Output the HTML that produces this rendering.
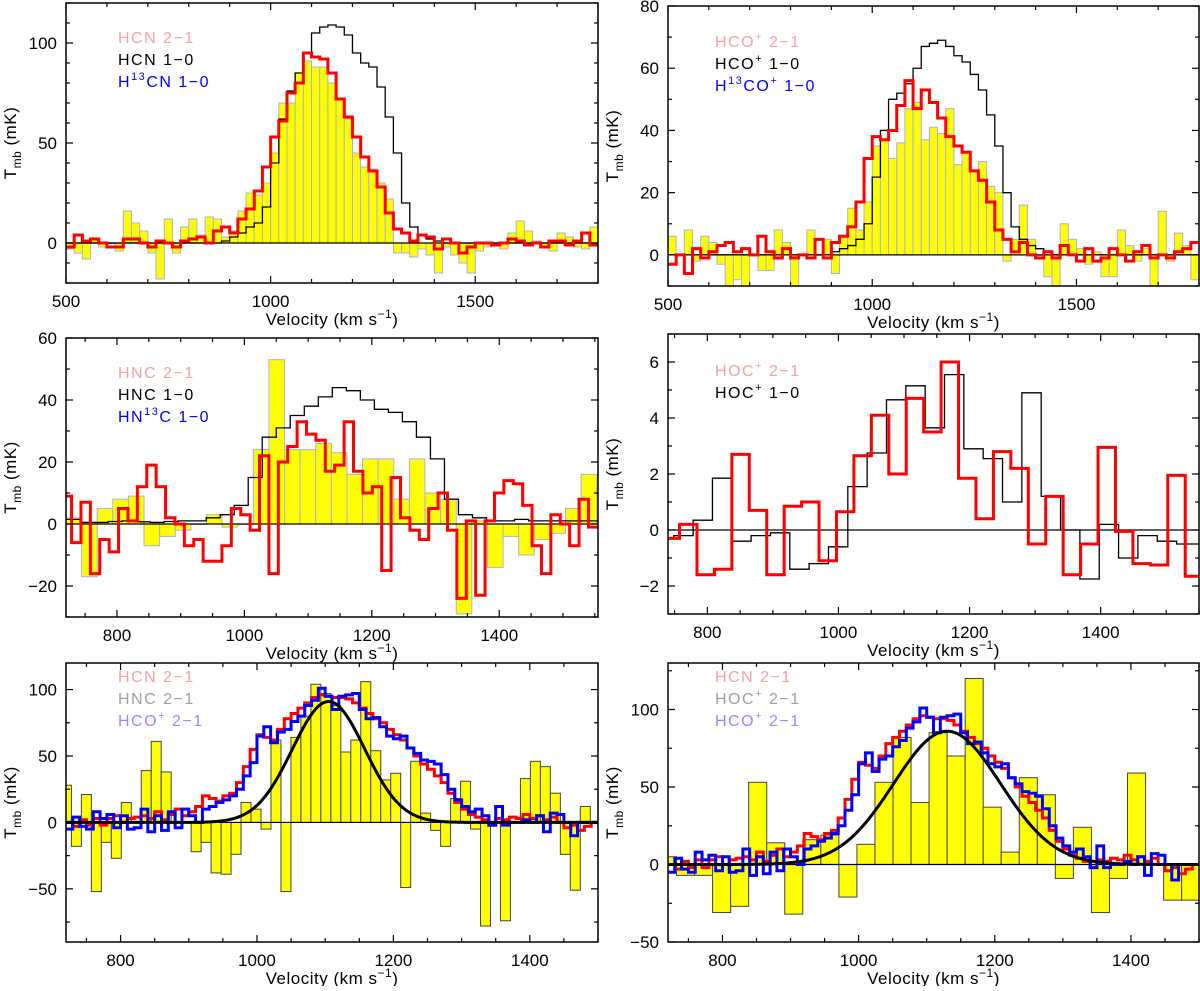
<!DOCTYPE html>
<html><head><meta charset="utf-8"><style>
html,body{margin:0;padding:0;background:#fff;}
svg text{font-family:"Liberation Sans",sans-serif;}
</style></head><body>
<svg id="fig" width="1200" height="986" viewBox="0 0 1200 986" xmlns="http://www.w3.org/2000/svg"></svg>
<script>
// ---------- DATA ----------
const p1Start = 500, p1Step = 20;
const p1H13CN = [-3,-5,-8,2,-2,0,-4,16,10,6,-5,-18,12,-5,8,12,4,13,12,3,6,16,25,24,30,45,70,70,85,91,88,88,80,72,62,45,38,37,30,22,-5,-5,-7,-3,-6,-15,-2,-6,-10,-15,-4,-2,0,-3,5,11,6,1,-2,-4,5,3,-2,-3,8];
const p1HCN21 = [-2,4,1,2,0,-2,-2,2,2,0,-2,1,0,-2,1,2,3,0,6,8,5,12,17,26,38,53,61,75,80,95,93,92,85,72,63,53,43,36,28,15,7,5,1,4,3,-3,2,0,-5,-2,0,0,-1,0,2,1,-1,0,-2,1,1,-1,1,5,-1];
const p1HCN10 = [0,0,0,0,0,0,0,0,0,0,0,0,0,0,0,0,0,0,0,1,3,5,8,10,18,40,62,76,85,95,105,108,109,108,104,95,90,88,78,63,45,20,8,4,2,1,0,0,0,0,0,0,0,0,0,0,0,0,0,0,0,0,0,0,0];
const p2Start = 500, p2Step = 20;
const p2H13COp = [6,0,8,-2,6,4,-3,-10,-8,-10,0,-5,-5,8,4,-10,0,8,0,5,-6,6,15,8,17,35,37,31,36,47,49,37,41,39,47,29,33,27,30,22,20,-2,5,16,5,0,-7,-10,10,5,2,-3,1,-7,-7,8,3,-2,2,-10,14,-2,7,3,-8];
const p2HCOp21 = [-3,0,-6,2,-1,1,3,4,1,2,0,6,1,-1,2,-1,0,-1,5,-1,4,6,9,17,31,38,37,40,48,56,47,53,49,44,38,35,33,27,24,17,8,5,1,4,0,-1,1,-1,3,0,-2,2,-2,-1,2,0,-2,1,3,-1,0,-1,1,2,4];
const p2HCOp10 = [0,0,0,0,0,0,0,0,0,0,0,0,0,0,0,0,0,0,0,0,1,2,3,5,10,25,40,50,52,55,60,67,68,69,67,64,62,58,53,45,35,20,9,5,3,2,1,0,0,0,0,0,0,0,0,0,0,0,0,0,0,0,0,0,0];
const p3YStart = 720, p3YStep = 24.5;
const p3HN13C = [2,-17,5,8,9,-7,-4,-2,0,3,-1,0,24,53,24,24,26,23,16,21,21,8,21,10,8,-29,1,-14,-4,-10,-5,-3,5,16];
const p3RStart = 714, p3RStep = 14.75;
const p3HNC21 = [9,-6,7,-16,-5,-9,5,1,12,19,12,2,0,-7,-5,-12,-12,-7,5,3,-2,22,-16,20,25,33,29,27,17,19,33,17,10,12,-15,15,2,-2,-5,5,10,-2,-24,1,-23,1,10,14,13,6,-7,-16,3,0,-7,8,-1];
const p3KStart = 720, p3KStep = 22;
const p3HNC10 = [1.5,0.5,0.5,0.8,1,0.7,0.5,0.8,1,1,2,3,6,15,28,31,35,38,41,44,43,40,37,36,33,28,21,8,3,2,1,1,1.5,1,1,1,1,1];
const p4RStart = 731, p4RStep = 26.6;
const p4HOCp21 = [-0.3,0.2,-1.6,-1.4,2.7,0.7,-1.6,0.85,1.0,-1.1,0.65,2.65,4.1,2.0,4.7,3.5,6.0,1.85,0.4,2.8,2.2,-0.5,1.2,-1.6,-0.5,2.95,-0.05,-1.2,-1.25,1.95,-1.65];
const p4KStart = 719.3, p4KStep = 29.5;
const p4HOCp10 = [-0.3,-0.2,0.35,1.85,-0.4,-0.2,-0.1,-1.4,-1.2,-0.6,1.55,2.75,4.65,5.15,3.65,5.55,2.9,2.55,1.0,4.9,1.2,0,-1.75,0.2,-1.0,-0.2,-0.4,-0.5,-0.5];
const lStart = 720, lStep = 10;
const hcn21 = [0,-3,2,-2,3,-2,3,5,0,3,4,5,3,8,2,6,10,5,8,12,20,18,16,20,22,30,42,55,66,64,62,70,78,82,86,90,94,96,95,94,94,93,90,86,82,78,75,70,66,62,56,50,44,40,35,30,22,15,10,6,4,2,-2,3,2,4,3,6,3,5,2,4,0,-4,-2,-6,-3,0];
const hcop21 = [-5,4,-3,-5,8,3,6,-4,5,-5,-4,10,-7,5,-6,8,-4,10,5,0,10,12,15,17,20,25,35,45,65,72,60,68,70,76,80,88,92,101,95,85,95,96,97,85,78,79,72,65,63,65,56,52,47,46,44,36,25,17,12,8,10,5,-2,12,-2,0,0,2,0,5,-7,7,6,0,-10,0,0,0];
const p5BStart = 713.3, p5BStep = 14.63;
const p5HNC21 = [28,-18,21,-52,-15,-27,15,0,39,61,38,0,0,-22,-15,-38,-39,-24,15,10,-5,62,-52,64,80,104,97,88,53,62,106,54,32,37,-49,46,7,-6,-18,18,31,-5,-78,0,-74,0,33,46,42,22,-24,-51,12,0];
const p5GaussAmp = [91], p5GaussCenter = [1105], p5GaussFwhm = [125];
const p6BStart = 706, p6BStep = 26.5;
const p6HOCp21 = [5,-7,-7,-31,-27,53,14,-32,16,19,-21,13,53,82,40,85,70,120,37,8,56,45,-9,24,-31,-9,59,0,-23,-23];
const p6GaussAmp = [86], p6GaussCenter = [1130], p6GaussFwhm = [185];

// ---------- DRAWING ----------
const NS = "http://www.w3.org/2000/svg";
const svg = document.getElementById('fig');
function mk(tag, attrs, parent){
  const e = document.createElementNS(NS, tag);
  for (const k in attrs) e.setAttribute(k, attrs[k]);
  (parent||svg).appendChild(e);
  return e;
}
function makePanel(name, L, R, T, B, x0, x1, y0, y1){
  const g = mk('g', {});
  
  
  const clipId = name + '-clip';
  const cp = mk('clipPath', {id: clipId}, g);
  mk('rect', {x:L, y:T, width:R-L, height:B-T}, cp);
  const plot = mk('g', {'clip-path':'url(#'+clipId+')'}, g);
  
  
  return {g, plot, L, R, T, B,
    X: v => L + (v - x0) / (x1 - x0) * (R - L),
    Y: v => B - (v - y0) / (y1 - y0) * (B - T), x0, x1, y0, y1};
}
function bars(p, start, step, vals, fill, stroke, name){
  const g = mk('g', {}, p.plot);
  
  
  vals.forEach((v, i) => {
    const xa = p.X(start + i*step), xb = p.X(start + (i+1)*step);
    const ya = p.Y(Math.max(v,0)), yb = p.Y(Math.min(v,0));
    const r = mk('rect', {x:xa, y:ya, width:xb-xa, height:Math.max(yb-ya,0.5), fill:fill, stroke:stroke, 'stroke-width':1}, g);
    
    
  });
}
function hist(p, start, step, vals, color, w, name){
  let d = 'M' + p.X(start) + ' ' + p.Y(vals[0]);
  vals.forEach((v, i) => {
    if (i > 0) d += ' V' + p.Y(v);
    d += ' H' + p.X(start + (i+1)*step);
  });
  const e = mk('path', {d:d, fill:'none', stroke:color, 'stroke-width':w, 'stroke-linejoin':'miter'}, p.plot);
  
  
}
function gauss(p, amp, c, fwhm, name){
  const s = fwhm / 2.3548;
  let d = '';
  for (let v = p.x0; v <= p.x1; v += 2){
    const y = amp * Math.exp(-0.5*((v-c)/s)**2);
    d += (d ? ' L' : 'M') + p.X(v).toFixed(2) + ' ' + p.Y(y).toFixed(2);
  }
  const e = mk('path', {d:d, fill:'none', stroke:'#000', 'stroke-width':3}, p.plot);
  
  
}
function zero(p){
  const e = mk('line', {x1:p.L, x2:p.R, y1:p.Y(0), y2:p.Y(0), stroke:'#000', 'stroke-width':1.2}, p.plot);
  
  
}
function axes(p, xMaj, xMin, yMaj, yMin){
  const g = p.g;
  const box = mk('rect', {x:p.L, y:p.T, width:p.R-p.L, height:p.B-p.T, fill:'none', stroke:'#000', 'stroke-width':1.5}, g);
  
  
  const tk = mk('g', {stroke:'#000', 'stroke-width':1.2}, g);
  
  
  for (let v = Math.ceil(p.x0/xMin)*xMin; v <= p.x1; v += xMin){
    const len = (Math.abs(v % xMaj) < 1e-6) ? 7 : 4, x = p.X(v);
    mk('line', {x1:x, x2:x, y1:p.B, y2:p.B-len}, tk);
    mk('line', {x1:x, x2:x, y1:p.T, y2:p.T+len}, tk);
  }
  for (let v = Math.ceil(p.y0/yMin)*yMin; v <= p.y1 + 1e-9; v += yMin){
    const len = (Math.abs(v % yMaj) < 1e-6) ? 7 : 4, y = p.Y(v);
    mk('line', {x1:p.L, x2:p.L+len, y1:y, y2:y}, tk);
    mk('line', {x1:p.R, x2:p.R-len, y1:y, y2:y}, tk);
  }
  for (let v = Math.ceil(p.x0/xMaj)*xMaj; v <= p.x1; v += xMaj){
    const t = mk('text', {x:p.X(v), y:p.B+24, 'text-anchor':'middle', 'font-size':17}, g);
    t.textContent = v;
    
    
  }
  for (let v = Math.ceil(p.y0/yMaj)*yMaj; v <= p.y1 + 1e-9; v += yMaj){
    const t = mk('text', {x:p.L-9, y:p.Y(v)+6, 'text-anchor':'end', 'font-size':17}, g);
    t.textContent = (v < 0 ? '\u2212' + (-v) : v);
    
    
  }
  const xl = mk('text', {x:(p.L+p.R)/2, y:p.B+42, 'text-anchor':'middle', 'font-size':17, 'letter-spacing':0.5}, g);
  
  
  xl.innerHTML = 'Velocity (km s<tspan dy="-7" font-size="12">\u22121</tspan><tspan dy="7">)</tspan>';
  const cy = (p.T+p.B)/2, cx = p.L - 50;
  const yl = mk('text', {x:cx, y:cy, 'text-anchor':'middle', 'font-size':17, 'letter-spacing':0.5, transform:'rotate(-90 '+cx+' '+cy+')'}, g);
  
  
  yl.innerHTML = 'T<tspan dy="5" font-size="12">mb</tspan><tspan dy="-5">  (mK)</tspan>';
}
function legend(p, x, y, items){
  items.forEach((it, i) => {
    const t = mk('text', {x:x, y:y + i*22, fill:it[1], 'font-size':16, 'letter-spacing':1.5}, p.g);
    t.innerHTML = it[0];
    
    
  });
}
const SUP = s => '<tspan dy="-7" font-size="11">' + s + '</tspan><tspan dy="7">';
const SALMON = '#f7a1a1', GREY = '#a0a0a0', LBLUE = '#8d8dff';
const YEL = '#ffff00';

let p = makePanel('panel-hcn', 66, 598, 3, 283, 500, 1800, -20, 120);
bars(p, p1Start, p1Step, p1H13CN, YEL, '#aab0d8', 'h13cn-1-0-bars');
zero(p);
hist(p, p1Start, p1Step, p1HCN10, '#000', 1.3, 'hcn-1-0-line');
hist(p, p1Start, p1Step, p1HCN21, '#ff0000', 3, 'hcn-2-1-line');
axes(p, 500, 100, 50, 10);
legend(p, 118, 43, [['HCN 2\u22121', SALMON], ['HCN 1\u22120', '#000'], ['H' + SUP('13') + 'CN 1\u22120</tspan>', '#0000ff']]);

p = makePanel('panel-hcop', 668, 1199, 6, 286, 500, 1800, -10, 80);
bars(p, p2Start, p2Step, p2H13COp, YEL, '#aab0d8', 'h13cop-1-0-bars');
zero(p);
hist(p, p2Start, p2Step, p2HCOp10, '#000', 1.3, 'hcop-1-0-line');
hist(p, p2Start, p2Step, p2HCOp21, '#ff0000', 3, 'hcop-2-1-line');
axes(p, 500, 100, 20, 10);
legend(p, 715, 47, [['HCO' + SUP('+') + ' 2\u22121</tspan>', SALMON], ['HCO' + SUP('+') + ' 1\u22120</tspan>', '#000'], ['H' + SUP('13') + 'CO' + SUP('+') + ' 1\u22120</tspan></tspan>', '#0000ff']]);

p = makePanel('panel-hnc', 66, 598, 338, 617, 720, 1555, -30, 60);
bars(p, p3YStart, p3YStep, p3HN13C, YEL, '#aab0d8', 'hn13c-1-0-bars');
zero(p);
hist(p, p3KStart, p3KStep, p3HNC10, '#000', 1.3, 'hnc-1-0-line');
hist(p, p3RStart, p3RStep, p3HNC21, '#ff0000', 3, 'hnc-2-1-line');
axes(p, 200, 50, 20, 10);
legend(p, 118, 378, [['HNC 2\u22121', SALMON], ['HNC 1\u22120', '#000'], ['HN' + SUP('13') + 'C 1\u22120</tspan>', '#0000ff']]);

p = makePanel('panel-hocp', 668, 1199, 334, 614, 740, 1550, -3, 7);
zero(p);
hist(p, p4KStart, p4KStep, p4HOCp10, '#000', 1.3, 'hocp-1-0-line');
hist(p, p4RStart, p4RStep, p4HOCp21, '#ff0000', 3, 'hocp-2-1-line');
axes(p, 200, 50, 2, 1);
legend(p, 715, 376, [['HOC' + SUP('+') + ' 2\u22121</tspan>', SALMON], ['HOC' + SUP('+') + ' 1\u22120</tspan>', '#000']]);

p = makePanel('panel-2-1-hnc', 66, 598, 663, 942, 720, 1500, -90, 120);
bars(p, p5BStart, p5BStep, p5HNC21, YEL, '#444', 'hnc-2-1-bars');
zero(p);
hist(p, lStart, lStep, hcn21, '#ff0000', 3, 'hcn-2-1-line');
hist(p, lStart, lStep, hcop21, '#0000ff', 3, 'hcop-2-1-line');
gauss(p, p5GaussAmp[0], p5GaussCenter[0], p5GaussFwhm[0], 'gaussian-fit');
axes(p, 200, 50, 50, 25);
legend(p, 118, 682, [['HCN 2\u22121', SALMON], ['HNC 2\u22121', GREY], ['HCO' + SUP('+') + ' 2\u22121</tspan>', LBLUE]]);

p = makePanel('panel-2-1-hocp', 668, 1199, 663, 942, 720, 1500, -50, 130);
bars(p, p6BStart, p6BStep, p6HOCp21, YEL, '#444', 'hocp-2-1-bars');
zero(p);
hist(p, lStart, lStep, hcn21, '#ff0000', 3, 'hcn-2-1-line');
hist(p, lStart, lStep, hcop21, '#0000ff', 3, 'hcop-2-1-line');
gauss(p, p6GaussAmp[0], p6GaussCenter[0], p6GaussFwhm[0], 'gaussian-fit');
axes(p, 200, 50, 50, 25);
legend(p, 715, 682, [['HCN 2\u22121', SALMON], ['HOC' + SUP('+') + ' 2\u22121</tspan>', GREY], ['HCO' + SUP('+') + ' 2\u22121</tspan>', LBLUE]]);
</script>
</body></html>
